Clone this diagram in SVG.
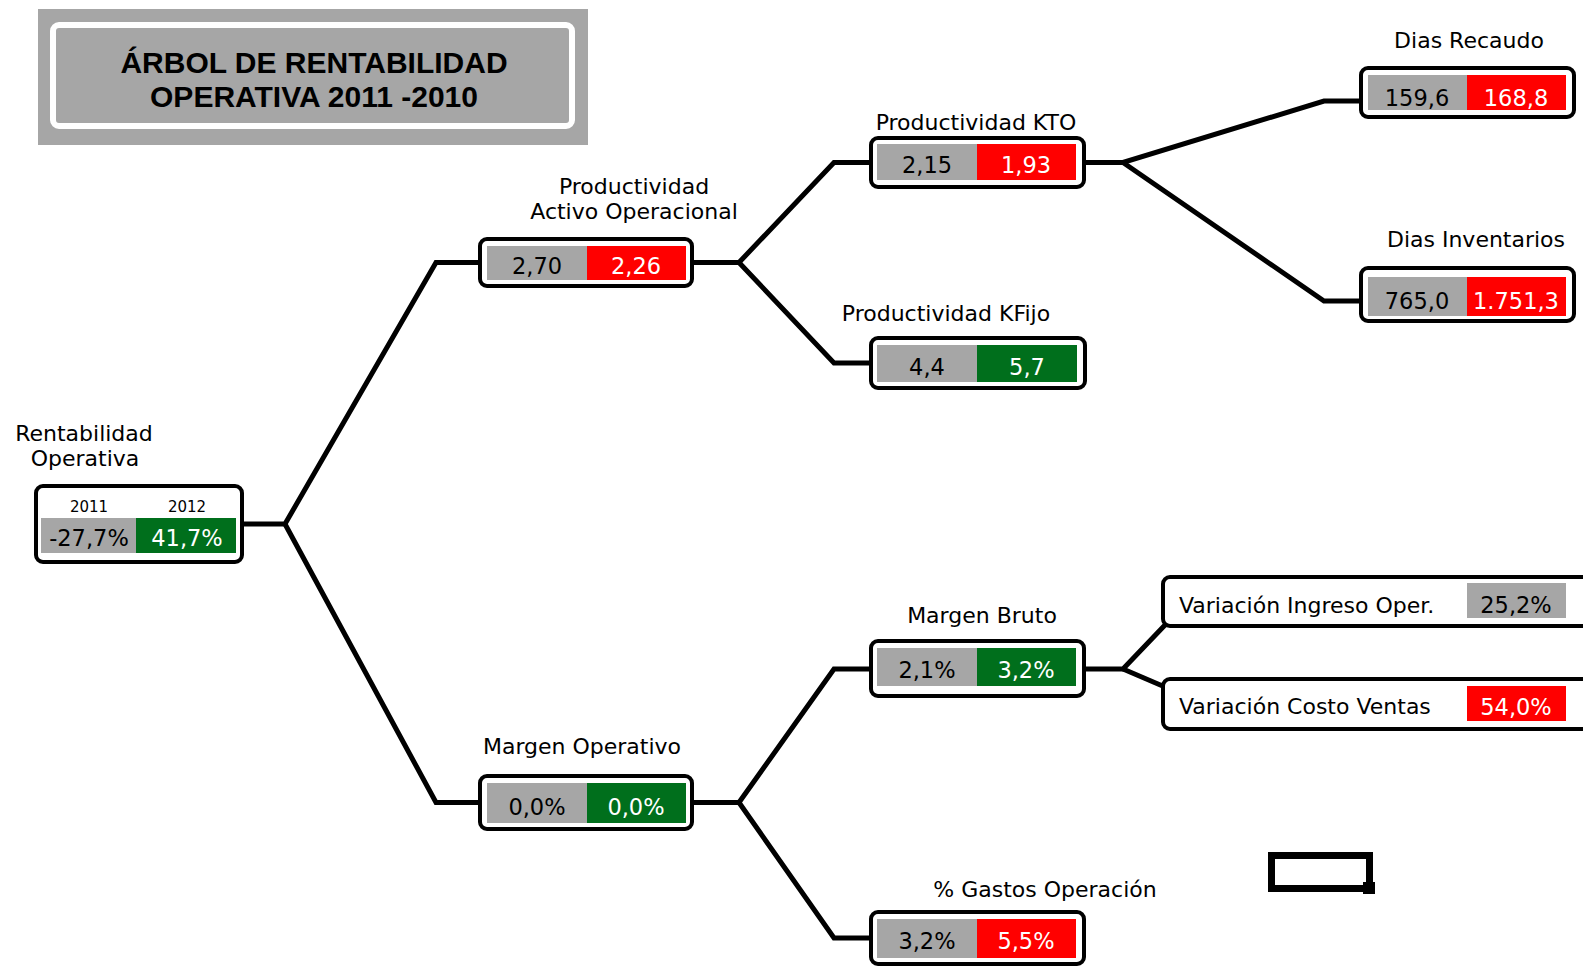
<svg xmlns="http://www.w3.org/2000/svg" width="1583" height="966" viewBox="0 0 1583 966">
  <style>
    .box { fill: #ffffff; stroke: #000000; stroke-width: 4; }
    .g { fill: #a6a6a6; }
    .r { fill: #ff0000; }
    .v { fill: #006f1c; }
    .lbl { font-family: "DejaVu Sans", Verdana, sans-serif; font-size: 22px; fill: #000000; text-anchor: middle; }
    .val { font-family: "DejaVu Sans", Verdana, sans-serif; font-size: 22.5px; text-anchor: middle; }
    .dk { fill: #000000; }
    .wt { fill: #ffffff; }
    .yr { font-family: "DejaVu Sans", Verdana, sans-serif; font-size: 15px; fill: #000000; text-anchor: middle; }
    .title { font-family: "Liberation Sans", Arial, sans-serif; font-weight: bold; font-size: 30px; fill: #000000; text-anchor: middle; }
    .link { fill: none; stroke: #000000; stroke-width: 5; stroke-linejoin: miter; }
  </style>

  <!-- title banner -->
  <g id="title">
    <rect x="38" y="9" width="550" height="136" fill="#a6a6a6"/>
    <rect x="53" y="25" width="519" height="101" rx="6" fill="#a6a6a6" stroke="#ffffff" stroke-width="6"/>
    <text class="title" x="314" y="73">ÁRBOL DE RENTABILIDAD</text>
    <text class="title" x="314" y="107">OPERATIVA 2011 -2010</text>
  </g>

  <!-- connectors -->
  <g id="connectors">
    <path class="link" d="M242 524 H285 L436 262.5 H480"/>
    <path class="link" d="M285 524 L436 802.5 H480"/>
    <path class="link" d="M692 262.5 H739 L834 162.5 H871"/>
    <path class="link" d="M739 262.5 L834 363 H871"/>
    <path class="link" d="M1084 162.5 H1123 L1324 101 H1361"/>
    <path class="link" d="M1123 162.5 L1324 301 H1361"/>
    <path class="link" d="M692 802.5 H739 L834 669 H871"/>
    <path class="link" d="M739 802.5 L834 938 H871"/>
    <path class="link" d="M1084 669 H1123 L1165 625"/>
    <path class="link" d="M1123 669 L1165 687"/>
  </g>

  <!-- root node -->
  <g id="rentabilidad-operativa">
    <text class="lbl" x="84" y="441">Rentabilidad</text>
    <text class="lbl" x="85" y="466">Operativa</text>
    <rect class="box" x="36" y="486" width="206" height="76" rx="7"/>
    <text class="yr" x="89" y="512">2011</text>
    <text class="yr" x="187" y="512">2012</text>
    <rect class="g" x="41" y="518" width="95" height="35"/>
    <rect class="v" x="136" y="518" width="100" height="35"/>
    <text class="val dk" x="89" y="546">-27,7%</text>
    <text class="val wt" x="187" y="546">41,7%</text>
  </g>

  <g id="productividad-activo">
    <text class="lbl" x="634" y="194">Productividad</text>
    <text class="lbl" x="634" y="219">Activo Operacional</text>
    <rect class="box" x="480" y="239" width="212" height="47" rx="7"/>
    <rect class="g" x="487" y="246" width="100" height="34"/>
    <rect class="r" x="587" y="246" width="99" height="34"/>
    <text class="val dk" x="537" y="274">2,70</text>
    <text class="val wt" x="636" y="274">2,26</text>
  </g>

  <g id="margen-operativo">
    <text class="lbl" x="582" y="754">Margen Operativo</text>
    <rect class="box" x="480" y="776" width="212" height="53" rx="7"/>
    <rect class="g" x="487" y="783" width="100" height="40"/>
    <rect class="v" x="587" y="783" width="99" height="40"/>
    <text class="val dk" x="537" y="815">0,0%</text>
    <text class="val wt" x="636" y="815">0,0%</text>
  </g>

  <g id="productividad-kto">
    <text class="lbl" x="976" y="130">Productividad KTO</text>
    <rect class="box" x="871" y="138" width="213" height="49" rx="7"/>
    <rect class="g" x="877" y="144" width="100" height="36"/>
    <rect class="r" x="977" y="144" width="99" height="36"/>
    <text class="val dk" x="927" y="173">2,15</text>
    <text class="val wt" x="1026" y="173">1,93</text>
  </g>

  <g id="productividad-kfijo">
    <text class="lbl" x="946" y="321">Productividad KFijo</text>
    <rect class="box" x="871" y="338" width="214" height="50" rx="7"/>
    <rect class="g" x="877" y="345" width="100" height="37"/>
    <rect class="v" x="977" y="345" width="100" height="37"/>
    <text class="val dk" x="927" y="375">4,4</text>
    <text class="val wt" x="1027" y="375">5,7</text>
  </g>

  <g id="margen-bruto">
    <text class="lbl" x="982" y="623">Margen Bruto</text>
    <rect class="box" x="871" y="641" width="213" height="55" rx="7"/>
    <rect class="g" x="877" y="648" width="100" height="38"/>
    <rect class="v" x="977" y="648" width="99" height="38"/>
    <text class="val dk" x="927" y="678">2,1%</text>
    <text class="val wt" x="1026" y="678">3,2%</text>
  </g>

  <g id="gastos-operacion">
    <text class="lbl" x="1045" y="897">% Gastos Operación</text>
    <rect class="box" x="871" y="912" width="213" height="52" rx="7"/>
    <rect class="g" x="877" y="919" width="100" height="39"/>
    <rect class="r" x="977" y="919" width="99" height="39"/>
    <text class="val dk" x="927" y="949">3,2%</text>
    <text class="val wt" x="1026" y="949">5,5%</text>
  </g>

  <g id="dias-recaudo">
    <text class="lbl" x="1469" y="48">Dias Recaudo</text>
    <rect class="box" x="1361" y="68" width="213" height="49" rx="7"/>
    <rect class="g" x="1368" y="75" width="99" height="35"/>
    <rect class="r" x="1467" y="75" width="99" height="35"/>
    <text class="val dk" x="1417" y="106">159,6</text>
    <text class="val wt" x="1516" y="106">168,8</text>
  </g>

  <g id="dias-inventarios">
    <text class="lbl" x="1476" y="247">Dias Inventarios</text>
    <rect class="box" x="1361" y="268" width="213" height="53" rx="7"/>
    <rect class="g" x="1368" y="277" width="99" height="39"/>
    <rect class="r" x="1467" y="277" width="99" height="39"/>
    <text class="val dk" x="1417" y="309">765,0</text>
    <text class="val wt" x="1516" y="309">1.751,3</text>
  </g>

  <g id="variacion-ingreso">
    <rect class="box" x="1163" y="577" width="440" height="49" rx="7"/>
    <rect class="g" x="1467" y="583" width="99" height="35"/>
    <text class="lbl" x="1179" y="613" style="text-anchor:start">Variación Ingreso Oper.</text>
    <text class="val dk" x="1516" y="613">25,2%</text>
  </g>

  <g id="variacion-costo">
    <rect class="box" x="1163" y="679" width="440" height="50" rx="7"/>
    <rect class="r" x="1467" y="686" width="99" height="35"/>
    <text class="lbl" x="1179" y="714" style="text-anchor:start">Variación Costo Ventas</text>
    <text class="val wt" x="1516" y="715">54,0%</text>
  </g>

  <!-- empty selection frame -->
  <g id="frame">
    <rect x="1271.5" y="855.5" width="98" height="33" fill="none" stroke="#000000" stroke-width="7"/>
    <rect x="1363" y="882" width="12" height="12" fill="#000000"/>
  </g>
</svg>
